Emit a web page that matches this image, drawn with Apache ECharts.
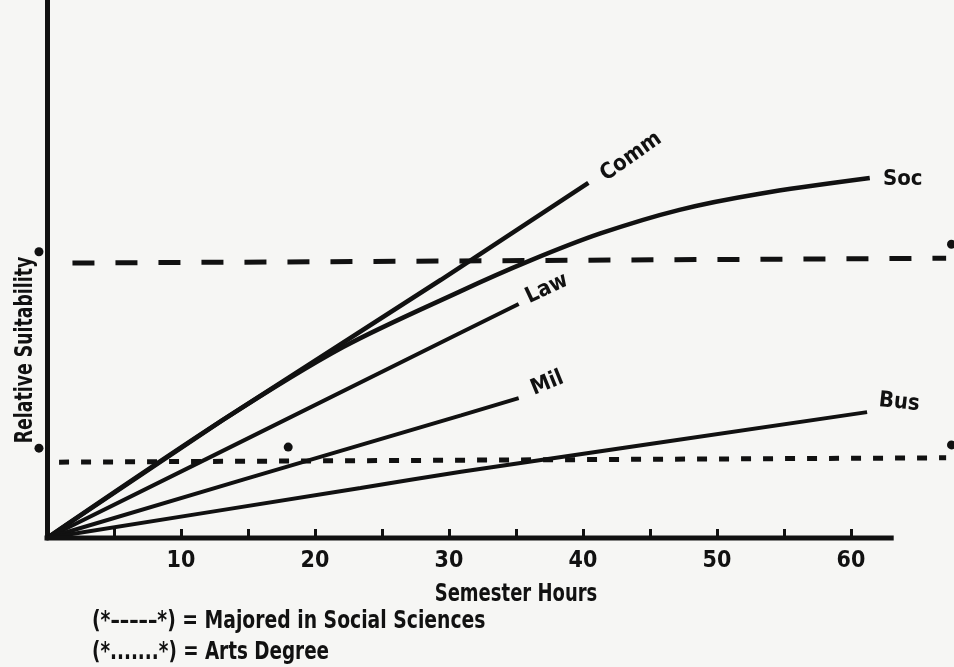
<!DOCTYPE html>
<html>
<head>
<meta charset="utf-8">
<script src="https://cdn.jsdelivr.net/npm/echarts@6/dist/echarts.min.js"></script>
<style>
  html, body { margin: 0; padding: 0; background: #f6f6f4; }
  #chart { width: 954px; height: 667px; }
</style>
</head>
<body>
<div id="chart"></div>
<script>
// semester hours (x) vs relative suitability (y, 0-100 scale)
const comm = [[0, 0], [13.1, 21.9], [29.4, 48.0], [40.4, 66.0]];
const soc = [[0, 0], [13.1, 21.9], [22.1, 35.5], [30.8, 45.8], [36.0, 51.5], [41.3, 56.6], [47.2, 61.0], [53.2, 64.0], [61.4, 66.9]];
const law = [[0, 0], [11.5, 14.2], [30.9, 38.2], [35.2, 43.5]];
const mil = [[0, 0], [14.7, 10.9], [30.9, 22.8], [35.2, 26.0]];
const bus = [[0, 0], [23.4, 9.3], [30.9, 12.3], [61.2, 23.4]];
// reference levels
const socSciLevel = [[1.9, 51.1], [67.1, 52.0]];
const artsLevel = [[0.9, 14.1], [67.1, 14.9]];
const starMarks = [[-0.6, 53.2], [-0.6, 16.7], [67.5, 54.6], [67.5, 17.3], [18.0, 16.9]];
// x axis: drawn length and tick labels
const xBase = [[0, 0], [63, 0]];
const xTicks = [5, 10, 15, 20, 25, 30, 35, 40, 45, 50, 55, 60];
const xLabels = [10, 20, 30, 40, 50, 60];

const FONT = "'Liberation Sans Narrow', 'DejaVu Sans Condensed', 'Liberation Sans', sans-serif";

// label on last point only
function withEndLabel(arr, name, rot, off) {
  return arr.map(function (p, i) {
    if (i < arr.length - 1) return p;
    return {
      value: p,
      label: {
        show: true, formatter: name, rotate: rot, offset: off,
        position: 'inside', align: 'center', verticalAlign: 'middle',
        color: '#111', fontSize: 22, fontWeight: 'bold', fontFamily: FONT
      }
    };
  });
}

function curve(name, arr, w, smooth, rot, off) {
  return {
    name: name, type: 'line', data: withEndLabel(arr, name, rot, off),
    symbol: 'circle', symbolSize: 0.1, smooth: smooth,
    lineStyle: { color: '#111', width: w }, itemStyle: { color: '#111' },
    clip: false, z: 3
  };
}

let myChart = echarts.init(document.getElementById('chart'));
myChart.setOption({
  backgroundColor: '#f6f6f4',
  animation: false,
  grid: { left: 47, right: 2.5, top: 0, bottom: 129, outerBoundsMode: 'none' },
  xAxis: {
    type: 'value', min: 0, max: 67.5, interval: 5,
    axisLine: { show: false },
    axisTick: { show: true, inside: true, length: 9, customValues: xTicks, lineStyle: { color: '#111', width: 3 } },
    axisLabel: {
      margin: 12, color: '#111', fontSize: 23, fontWeight: 'bold', fontFamily: FONT,
      customValues: xLabels,
      formatter: function (v) { return xLabels.indexOf(v) >= 0 ? String(v) : ''; }
    },
    splitLine: { show: false }
  },
  yAxis: {
    type: 'value', min: 0, max: 100,
    axisLine: { show: true, lineStyle: { color: '#111', width: 5 } },
    axisTick: { show: false }, axisLabel: { show: false }, splitLine: { show: false }
  },
  series: [
    {
      type: 'line', data: xBase, symbol: 'none', clip: false, z: 4,
      lineStyle: { color: '#111', width: 5, cap: 'square' }
    },
    curve('Comm', comm, 4.5, false, 35, [50, 3]),
    curve('Soc', soc, 4.5, 0.3, 0, [33, 1]),
    curve('Law', law, 4, false, 25, [32, -2]),
    curve('Mil', mil, 4, false, 22, [32, -3]),
    curve('Bus', bus, 4, 0.2, -6, [31, -13]),
    {
      name: 'Majored in Social Sciences', type: 'line', data: socSciLevel,
      symbol: 'none', clip: false,
      lineStyle: { color: '#111', width: 5, type: [22, 21] }
    },
    {
      name: 'Arts Degree', type: 'line', data: artsLevel,
      symbol: 'none', clip: false,
      lineStyle: { color: '#111', width: 5, type: [10, 12] }
    },
    {
      type: 'scatter', data: starMarks, symbol: 'circle', symbolSize: 9,
      itemStyle: { color: '#111', opacity: 1 }, clip: false
    }
  ],
  graphic: [
    {
      type: 'text', x: 25, y: 350, rotation: Math.PI / 2, scaleX: 0.77,
      style: { text: 'Relative Suitability', fill: '#111', font: 'bold 25px ' + FONT, align: 'center', verticalAlign: 'middle' }
    },
    {
      type: 'text', x: 516, y: 594, scaleX: 0.8,
      style: { text: 'Semester Hours', fill: '#111', font: 'bold 25px ' + FONT, align: 'center', verticalAlign: 'middle' }
    },
    {
      type: 'text', x: 92, y: 622, scaleX: 0.87,
      style: { text: '(*–––––*) = Majored in Social Sciences', fill: '#111', font: 'bold 24px ' + FONT, align: 'left', verticalAlign: 'middle' }
    },
    {
      type: 'text', x: 92, y: 653, scaleX: 0.85,
      style: { text: '(*.......*) = Arts Degree', fill: '#111', font: 'bold 24px ' + FONT, align: 'left', verticalAlign: 'middle' }
    }
  ]
});
</script>
</body>
</html>
